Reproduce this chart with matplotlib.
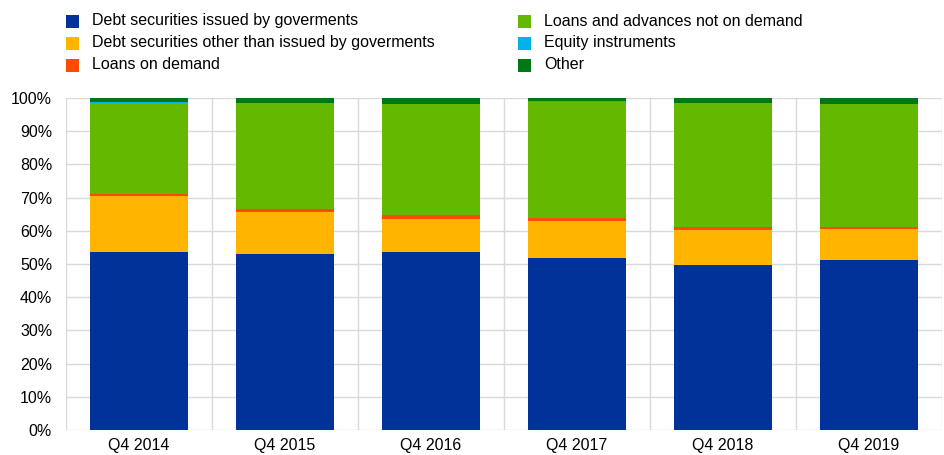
import matplotlib
matplotlib.use("Agg")
import matplotlib.pyplot as plt
from matplotlib.patches import Rectangle
import numpy as np

plt.rcParams['font.family'] = ['Liberation Sans', 'DejaVu Sans']

categories = ["Q4 2014", "Q4 2015", "Q4 2016", "Q4 2017", "Q4 2018", "Q4 2019"]
series_names = ["Debt securities issued by goverments",
                "Debt securities other than issued by goverments",
                "Loans on demand",
                "Loans and advances not on demand",
                "Equity instruments",
                "Other"]
debt_gov = [53.6, 53.0, 53.6, 51.9, 49.7, 51.3]
debt_other = [16.9, 12.8, 10.0, 11.1, 10.4, 9.2]
loans_demand = [0.6, 0.7, 1.1, 1.0, 0.9, 0.7]
loans_not_demand = [27.3, 31.9, 33.6, 34.8, 37.4, 37.0]
equity = [0.3, 0.0, 0.0, 0.3, 0.0, 0.0]
other = [1.3, 1.6, 1.7, 0.9, 1.6, 1.8]
colors = ["#003299", "#FFB400", "#FF4B00", "#65B800", "#00B1EA", "#007816"]

series = [debt_gov, debt_other, loans_demand, loans_not_demand, equity, other]

W, H = 944, 455
FS = 11.5
fig = plt.figure(figsize=(W / 100, H / 100), dpi=100)
ax = fig.add_axes([66 / W, 1 - 430 / H, (942 - 66) / W, (430 - 98) / H])

x = np.arange(len(categories))
bottom = np.zeros(len(categories))
for vals, c, name in zip(series, colors, series_names):
    v = np.array(vals)
    ax.bar(x, v, bottom=bottom, width=0.67, color=c, linewidth=0,
           label=name, zorder=3)
    bottom += v

ax.set_xlim(-0.5, len(categories) - 0.5)
ax.set_ylim(0, 100)
ax.set_yticks(np.arange(0, 101, 10))
ax.set_yticklabels([f"{v}%" for v in range(0, 101, 10)], fontsize=FS)
ax.set_xticks(x)
ax.set_xticklabels(categories, fontsize=FS)
ax.set_xticks(np.arange(-0.5, len(categories), 1.0), minor=True)
ax.tick_params(axis='both', which='both', length=0)
ax.tick_params(axis='x', pad=6)
ax.tick_params(axis='y', pad=10)
ax.grid(axis='y', which='major', color='#d9d9d9', linewidth=1, zorder=0)
ax.grid(axis='x', which='minor', color='#d9d9d9', linewidth=1, zorder=0)
for s in ax.spines.values():
    s.set_visible(False)

# legend (manual, two columns)
col_x = [66, 518]
row_y = [21, 43, 65]
for i, (name, c) in enumerate(zip(series_names, colors)):
    col = i // 3
    row = i % 3
    px, py = col_x[col], row_y[row]
    fig.patches.append(Rectangle((px / W, 1 - (py + 7) / H), 13 / W, 13 / H,
                                 transform=fig.transFigure, facecolor=c,
                                 edgecolor='none'))
    fig.text((px + 26) / W, 1 - py / H, name, fontsize=FS, va='center', ha='left',
             color='#000000')

fig.savefig("out.png", dpi=100)
